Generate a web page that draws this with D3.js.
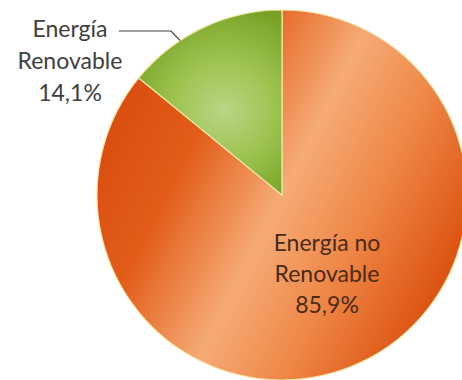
<!DOCTYPE html>
<html>
<head>
<meta charset="utf-8">
<script src="https://cdn.jsdelivr.net/npm/d3@7"></script>
<style>
  html, body { margin: 0; padding: 0; background: #ffffff; }
  svg { display: block; }
  text { font-family: Lato, "Open Sans", sans-serif; }
</style>
</head>
<body>
<svg id="chart" width="462" height="380"></svg>
<script>
// Energy mix shares (percent)
const categories = ["Energía no Renovable", "Energía Renovable"];
const values = [85.9, 14.1];
const labelLines = [["Energía no", "Renovable", "85,9%"], ["Energía", "Renovable", "14,1%"]];

const W = 462, H = 380;
const cx = 282, cy = 195, R = 185;

const svg = d3.select("#chart");
const defs = svg.append("defs");

// Gradients are in the pie group's own coordinates (origin at the centre)
// Orange fill: dark edges with a light band running through the centre
const og = defs.append("linearGradient")
  .attr("id", "gOrange")
  .attr("gradientUnits", "userSpaceOnUse")
  .attr("x1", -R * 0.892).attr("y1", -R * 0.452)
  .attr("x2", R * 0.892).attr("y2", R * 0.452);
[[0, "#da4e10"], [0.22, "#e25c18"], [0.5, "#f5ab76"], [0.72, "#ef8848"], [1, "#dc5210"]]
  .forEach(([o, c]) => og.append("stop").attr("offset", o).attr("stop-color", c));

// Green fill: lighter centre fading to darker edges
const gg = defs.append("radialGradient")
  .attr("id", "gGreen")
  .attr("gradientUnits", "userSpaceOnUse")
  .attr("cx", -58).attr("cy", -85).attr("r", 105);
[[0, "#b8d684"], [0.5, "#9cc24e"], [1, "#78a226"]]
  .forEach(([o, c]) => gg.append("stop").attr("offset", o).attr("stop-color", c));

const fills = ["url(#gOrange)", "url(#gGreen)"];

const pie = d3.pie().sort(null).value(d => d)(values);
const arc = d3.arc().innerRadius(0).outerRadius(R);

const g = svg.append("g").attr("transform", `translate(${cx},${cy})`);
g.selectAll("path")
  .data(pie)
  .join("path")
  .attr("d", arc)
  .attr("fill", (d, i) => fills[i])
  .attr("stroke", "#f3e6a6")
  .attr("stroke-width", 1.2);

// Label inside the large slice
const inner = svg.append("text")
  .attr("fill", "#4b2a17")
  .attr("font-size", 23)
  .attr("text-anchor", "middle");
labelLines[0].forEach((t, i) => {
  inner.append("tspan").attr("x", 327).attr("y", 251 + i * 31).text(t);
});

// Outside label for the small slice, with leader line
const outer = svg.append("text")
  .attr("fill", "#404040")
  .attr("font-size", 23)
  .attr("text-anchor", "middle");
labelLines[1].forEach((t, i) => {
  outer.append("tspan").attr("x", 70).attr("y", 37 + i * 32).text(t);
});

// leader line from the label to the slice edge
const ang = (pie[1].startAngle + pie[1].endAngle) / 2 - 0.14;
const ex = cx + R * Math.sin(ang), ey = cy - R * Math.cos(ang);
svg.append("path")
  .attr("d", d3.line()([[119, 31], [171, 31], [ex, ey]]))
  .attr("fill", "none")
  .attr("stroke", "#404040")
  .attr("stroke-width", 1.2);
</script>
</body>
</html>
